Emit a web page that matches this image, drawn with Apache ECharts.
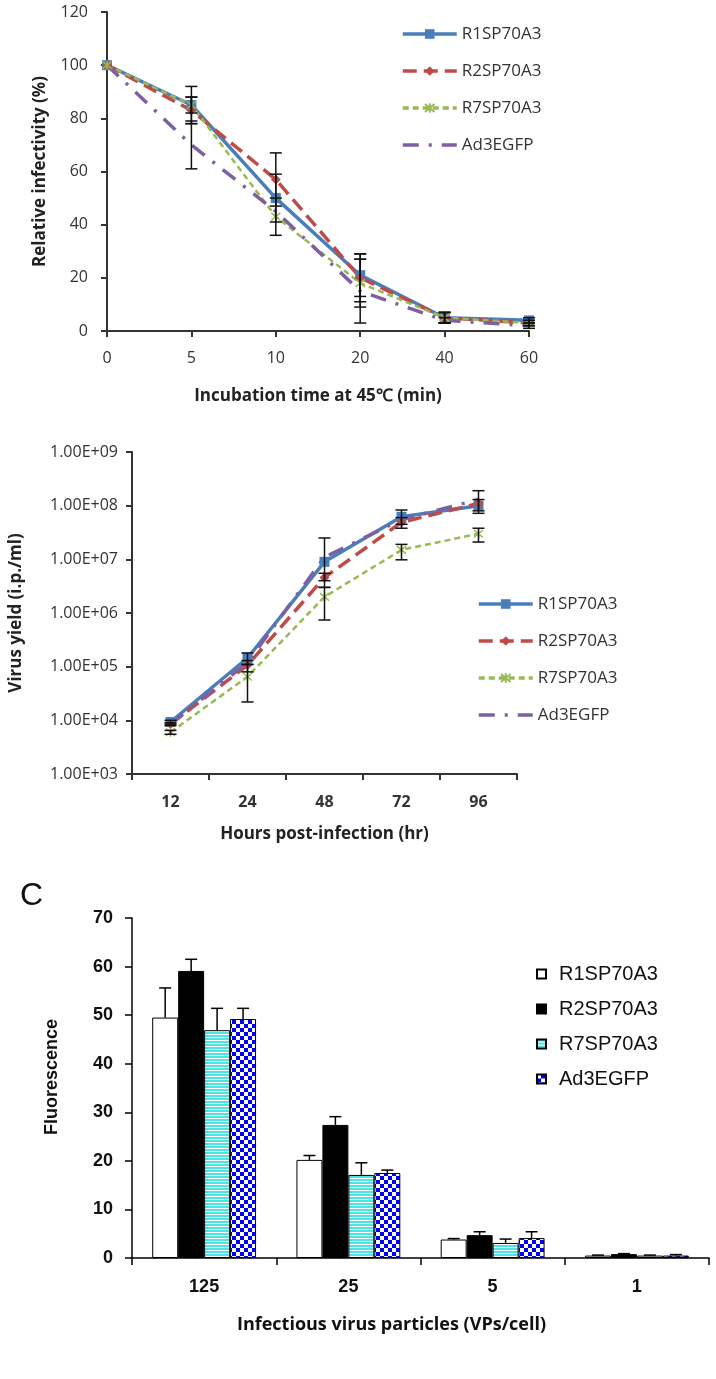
<!DOCTYPE html>
<html>
<head>
<meta charset="utf-8">
<script src="https://cdn.jsdelivr.net/npm/echarts@6/dist/echarts.min.js"></script>
<style>
html, body { margin: 0; padding: 0; background: #fff; }
#main { width: 716px; height: 1379px; }
</style>
</head>
<body>
<div id="main"></div>
<script>
var names = ['R1SP70A3', 'R2SP70A3', 'R7SP70A3', 'Ad3EGFP'];

// panel A - relative infectivity after 45C incubation
var timeLabels = ['0', '5', '10', '20', '40', '60'];
var infR1 = [100, 85, 50, 21, 5, 4];
var infR2 = [100, 83, 57, 20, 5, 3];
var infR7 = [100, 85, 43, 18, 5, 3];
var infAd3 = [100, 70, 45, 15, 4, 2];
var infErrR1 = [0, 7, 9, 8, 2, 1];
var infErrR2 = [0, 5, 10, 9, 2, 1];
var infErrR7 = [0, 3, 7, 9, 2, 1];
var infErrAd3 = [0, 9, 0, 12, 1, 1];

// panel B - virus yield (log)
var hourLabels = ['12', '24', '48', '72', '96'];
var yieldR1 = [9.3e3, 1.45e5, 9e6, 6.2e7, 1.0e8];
var yieldR2 = [8.5e3, 1.07e5, 4.6e6, 4.9e7, 1.1e8];
var yieldR7 = [6e3, 6.5e4, 2e6, 1.5e7, 3e7];
var yieldAd3 = [8.5e3, 1.2e5, 1.1e7, 5.5e7, 1.3e8];
var yieldLowR1 = [8.5e3, 1.1e5, 4e6, 4.5e7, 7.2e7];
var yieldHighR1 = [1e4, 1.8e5, 2.5e7, 8.3e7, 1.3e8];
var yieldLowR2 = [8e3, 8e4, 3e6, 3.8e7, 8e7];
var yieldHighR2 = [9e3, 1.3e5, 5.5e6, 6e7, 1.9e8];
var yieldLowR7 = [5.5e3, 2.2e4, 7.4e5, 9.8e6, 2.1e7];
var yieldHighR7 = [6.5e3, 1.1e5, 3e6, 1.9e7, 3.8e7];

// panel C - fluorescence
var doseLabels = ['125', '25', '5', '1'];
var fluR1 = [49.5, 20.2, 3.8, 0.5];
var fluR2 = [59.1, 27.4, 4.7, 0.8];
var fluR7 = [46.9, 17.1, 3.1, 0.5];
var fluAd3 = [49.2, 17.5, 4.1, 0.5];
var fluErrR1 = [6.1, 0.9, 0.2, 0.1];
var fluErrR2 = [2.4, 1.7, 0.7, 0.1];
var fluErrR7 = [4.5, 2.5, 0.8, 0.1];
var fluErrAd3 = [2.2, 0.6, 1.3, 0.2];

var BLUE = '#4A7EBB', RED = '#BE4B48', GREEN = '#98B954', PURPLE = '#7D60A0';
var FONT = 'Open Sans';
var ARIAL = 'Liberation Sans';
var asterisk = 'path://M0,0L10,10M10,0L0,10M5,-1L5,11';

function makeStripes() {
  var c = document.createElement('canvas');
  c.width = 4; c.height = 3;
  var g = c.getContext('2d');
  g.fillStyle = '#fff'; g.fillRect(0, 0, 4, 3);
  g.fillStyle = '#4FE3E3'; g.fillRect(0, 0, 4, 2);
  return c;
}
function makeChecker() {
  var c = document.createElement('canvas');
  c.width = 8; c.height = 8;
  var g = c.getContext('2d');
  g.fillStyle = '#0000F0'; g.fillRect(0, 0, 8, 8);
  g.fillStyle = '#fff'; g.fillRect(0, 0, 4, 4); g.fillRect(4, 4, 4, 4);
  return c;
}

// error bar data [catIdx, low, high]
function symErr(vals, errs) {
  var out = [];
  vals.forEach(function (v, i) {
    if (errs[i] > 0) out.push([i, v - errs[i], v + errs[i]]);
  });
  return out;
}
function rangeErr(lows, highs) {
  return lows.map(function (l, i) { return [i, l, highs[i]]; });
}

function errRender(cap) {
  return function (params, api) {
    var x = api.value(0);
    var lo = api.coord([x, api.value(1)]);
    var hi = api.coord([x, api.value(2)]);
    var st = { stroke: '#111', lineWidth: 1.5 };
    return {
      type: 'group',
      children: [
        { type: 'line', shape: { x1: lo[0], y1: lo[1], x2: hi[0], y2: hi[1] }, style: st },
        { type: 'line', shape: { x1: lo[0] - cap, y1: lo[1], x2: lo[0] + cap, y2: lo[1] }, style: st },
        { type: 'line', shape: { x1: hi[0] - cap, y1: hi[1], x2: hi[0] + cap, y2: hi[1] }, style: st }
      ]
    };
  };
}

var barGapRatio = 0.28;
function barErrRender(params, api) {
  var i = api.value(0), v = api.value(1), e = api.value(2), s = api.value(3);
  var band = api.size([1, 0])[0];
  var bw = band * (1 - barGapRatio) / 4;
  var base = api.coord([i, v]);
  var top = api.coord([i, v + e]);
  var x = base[0] + (s - 1.5) * bw;
  var st = { stroke: '#000', lineWidth: 1.5 };
  return {
    type: 'group',
    children: [
      { type: 'line', shape: { x1: x, y1: base[1], x2: x, y2: top[1] }, style: st },
      { type: 'line', shape: { x1: x - 6, y1: top[1], x2: x + 6, y2: top[1] }, style: st }
    ]
  };
}
function barErrData(vals, errs, s) {
  return vals.map(function (v, i) { return [i, v, errs[i], s]; });
}

var chart = echarts.init(document.getElementById('main'), null, { renderer: 'canvas' });

var axisLineDark = { show: true, lineStyle: { color: '#333', width: 2 } };
var axisTickDark = { show: true, length: 6, lineStyle: { color: '#333', width: 2 } };
var axisLineBlack = { show: true, lineStyle: { color: '#000', width: 1.5 } };
var axisTickBlack = { show: true, length: 7, lineStyle: { color: '#000', width: 1.5 } };

function legendName(n) { return n.split(':')[1]; }

function lineSeries(prefix, idx, data, xi) {
  var base = {
    name: prefix + ':' + names[idx],
    type: 'line',
    xAxisIndex: xi, yAxisIndex: xi,
    data: data,
    smooth: false
  };
  if (idx === 0) {
    base.lineStyle = { color: BLUE, width: 3.5 };
    base.itemStyle = { color: BLUE };
    base.symbol = 'rect'; base.symbolSize = 10;
  } else if (idx === 1) {
    base.lineStyle = { color: RED, width: 3.5, type: [14, 7] };
    base.itemStyle = { color: RED };
    base.symbol = 'diamond'; base.symbolSize = 10;
  } else if (idx === 2) {
    base.lineStyle = { color: GREEN, width: 2.5, type: [6, 4] };
    base.itemStyle = { color: GREEN, borderColor: GREEN, borderWidth: 1.5 };
    base.symbol = asterisk; base.symbolSize = 9;
  } else {
    base.lineStyle = { color: PURPLE, width: 3.5, type: [16, 10, 3, 10] };
    base.itemStyle = { color: PURPLE };
    base.symbol = 'none';
  }
  return base;
}

function lineLegendData(prefix) {
  return names.map(function (n, i) {
    var item = { name: prefix + ':' + n };
    if (i === 3) item.itemStyle = { opacity: 0 };
    return item;
  });
}

var stripe = { image: makeStripes(), repeat: 'repeat' };
var checker = { image: makeChecker(), repeat: 'repeat' };
var barColors = ['#fff', '#000', stripe, checker];

var series = [];
// panel A lines
[infR1, infR2, infR7, infAd3].forEach(function (d, i) { series.push(lineSeries('a', i, d, 0)); });
[[infR1, infErrR1], [infR2, infErrR2], [infR7, infErrR7], [infAd3, infErrAd3]].forEach(function (p) {
  series.push({ type: 'custom', xAxisIndex: 0, yAxisIndex: 0, renderItem: errRender(6), data: symErr(p[0], p[1]), z: 5 });
});
// panel B lines
[yieldR1, yieldR2, yieldR7, yieldAd3].forEach(function (d, i) { series.push(lineSeries('b', i, d, 1)); });
[[yieldLowR1, yieldHighR1], [yieldLowR2, yieldHighR2], [yieldLowR7, yieldHighR7]].forEach(function (p) {
  series.push({ type: 'custom', xAxisIndex: 1, yAxisIndex: 1, renderItem: errRender(6), data: rangeErr(p[0], p[1]), z: 5 });
});
// panel C bars
[fluR1, fluR2, fluR7, fluAd3].forEach(function (d, i) {
  series.push({
    name: 'c:' + names[i],
    type: 'bar',
    xAxisIndex: 2, yAxisIndex: 2,
    data: d,
    barGap: '0%',
    barCategoryGap: (barGapRatio * 100) + '%',
    itemStyle: { color: barColors[i], borderColor: '#000', borderWidth: 1 }
  });
});
[[fluR1, fluErrR1], [fluR2, fluErrR2], [fluR7, fluErrR7], [fluAd3, fluErrAd3]].forEach(function (p, s) {
  series.push({ type: 'custom', xAxisIndex: 2, yAxisIndex: 2, renderItem: barErrRender, data: barErrData(p[0], p[1], s), z: 1 });
});

var option = {
  backgroundColor: '#fff',
  animation: false,
  textStyle: { fontFamily: FONT },
  grid: [
    { left: 107, top: 12, width: 422, height: 319 },
    { left: 132, top: 452, width: 385, height: 322 },
    { left: 132, top: 918, width: 577, height: 340 }
  ],
  xAxis: [
    {
      gridIndex: 0, type: 'category', data: timeLabels, boundaryGap: false,
      axisLine: axisLineDark, axisTick: axisTickDark,
      axisLabel: { margin: 19, fontSize: 16, color: '#333', fontFamily: FONT },
      name: 'Incubation time at 45\u2103 (min)', nameLocation: 'middle', nameGap: 57,
      nameTextStyle: { fontSize: 17, fontWeight: 'bold', color: '#222', fontFamily: FONT }
    },
    {
      gridIndex: 1, type: 'category', data: hourLabels, boundaryGap: true,
      axisLine: axisLineDark, axisTick: axisTickDark,
      axisLabel: { margin: 20, fontSize: 16, fontWeight: 'bold', color: '#333', fontFamily: FONT },
      name: 'Hours post-infection (hr)', nameLocation: 'middle', nameGap: 52,
      nameTextStyle: { fontSize: 17, fontWeight: 'bold', color: '#222', fontFamily: FONT }
    },
    {
      gridIndex: 2, type: 'category', data: doseLabels, boundaryGap: true,
      axisLine: axisLineBlack, axisTick: axisTickBlack,
      axisLabel: { margin: 20, fontSize: 18, fontWeight: 'bold', color: '#111', fontFamily: ARIAL },
      name: 'Infectious virus particles (VPs/cell)', nameLocation: 'middle', nameGap: 58,
      nameTextStyle: { fontSize: 18, fontWeight: 'bold', color: '#111', fontFamily: FONT, padding: [0, 58, 0, 0] }
    }
  ],
  yAxis: [
    {
      gridIndex: 0, type: 'value', min: 0, max: 120, interval: 20,
      axisLine: axisLineDark, axisTick: axisTickDark, splitLine: { show: false },
      axisLabel: { margin: 19, fontSize: 16, color: '#333', fontFamily: FONT },
      name: 'Relative infectivity (%)', nameLocation: 'middle', nameGap: 58,
      nameTextStyle: { fontSize: 17, fontWeight: 'bold', color: '#222', fontFamily: FONT }
    },
    {
      gridIndex: 1, type: 'log', logBase: 10, min: 1e3, max: 1e9, splitNumber: 6,
      axisLine: axisLineDark, axisTick: axisTickDark, splitLine: { show: false },
      axisLabel: {
        margin: 14, fontSize: 16, color: '#333', fontFamily: FONT,
        formatter: function (v) {
          var e = Math.round(Math.log10(v));
          return '1.00E+' + (e < 10 ? '0' : '') + e;
        }
      },
      name: 'Virus yield (i.p./ml)', nameLocation: 'middle', nameGap: 107,
      nameTextStyle: { fontSize: 17, fontWeight: 'bold', color: '#222', fontFamily: FONT }
    },
    {
      gridIndex: 2, type: 'value', min: 0, max: 70, interval: 10,
      axisLine: axisLineBlack, axisTick: axisTickBlack, splitLine: { show: false },
      axisLabel: { margin: 19, fontSize: 18, fontWeight: 'bold', color: '#111', fontFamily: ARIAL },
      name: 'Fluorescence', nameLocation: 'middle', nameGap: 71,
      nameTextStyle: { fontSize: 18, fontWeight: 'bold', color: '#111', fontFamily: ARIAL, padding: [0, 0, 0, 22] }
    }
  ],
  legend: [
    {
      data: lineLegendData('a'),
      formatter: legendName, selectedMode: false,
      orient: 'vertical', left: 396, top: 20,
      itemWidth: 54, itemHeight: 12, itemGap: 19,
      lineStyle: { width: 3.5 },
      textStyle: { fontSize: 17, lineHeight: 18, color: '#333', fontFamily: FONT }
    },
    {
      data: lineLegendData('b'),
      formatter: legendName, selectedMode: false,
      orient: 'vertical', left: 472, top: 590,
      itemWidth: 54, itemHeight: 12, itemGap: 19,
      lineStyle: { width: 3.5 },
      textStyle: { fontSize: 17, lineHeight: 18, color: '#333', fontFamily: FONT }
    },
    {
      data: names.map(function (n) { return 'c:' + n; }),
      formatter: legendName, selectedMode: false, icon: 'rect',
      orient: 'vertical', left: 531, top: 959,
      itemWidth: 9, itemHeight: 9, itemGap: 15,
      textStyle: { fontSize: 20, lineHeight: 20, color: '#111', fontFamily: ARIAL, padding: [0, 0, 0, 8] }
    }
  ],
  graphic: [
    { type: 'text', left: 20, top: 880, style: { text: 'C', font: '32px "Liberation Sans"', fill: '#111' } }
  ],
  series: series
};

chart.setOption(option);
</script>
</body>
</html>
